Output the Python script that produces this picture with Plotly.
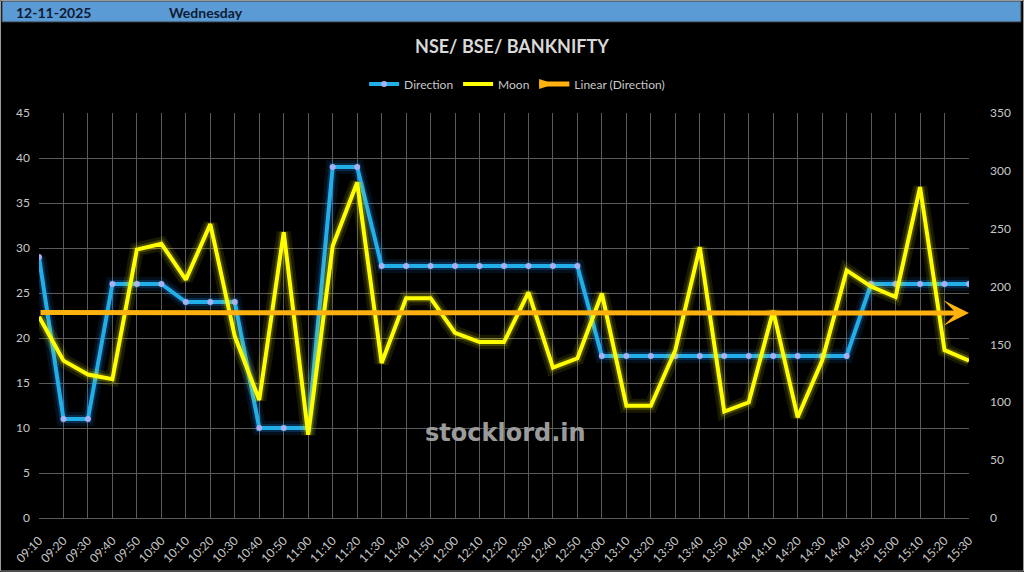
import numpy as np
import plotly.graph_objects as go

times = ["09:10","09:20","09:30","09:40","09:50","10:00","10:10","10:20","10:30","10:40",
         "10:50","11:00","11:10","11:20","11:30","11:40","11:50","12:00","12:10","12:20",
         "12:30","12:40","12:50","13:00","13:10","13:20","13:30","13:40","13:50","14:00",
         "14:10","14:20","14:30","14:40","14:50","15:00","15:10","15:20","15:30"]
direction = [29, 11, 11, 26, 26, 26, 24, 24, 24, 10,
             10, 10, 39, 39, 28, 28, 28, 28, 28, 28,
             28, 28, 28, 18, 18, 18, 18, 18, 18, 18,
             18, 18, 18, 18, 26, 26, 26, 26, 26]
moon = [174, 136, 124, 120, 232, 237, 206, 254, 157, 102,
        247, 72, 235, 290, 134, 190, 190, 160, 152, 152,
        195, 130, 138, 194, 97, 97, 145, 234, 92, 100,
        179, 87, 136, 214, 200, 191, 286, 145, 136]
left_ticks = [0, 5, 10, 15, 20, 25, 30, 35, 40, 45]
right_ticks = [0, 50, 100, 150, 200, 250, 300, 350]
title_text = "NSE/ BSE/ BANKNIFTY"
date_text = "12-11-2025"
day_text = "Wednesday"
watermark = "stocklord.in"

W, H = 1024, 572
ML, MR, MT, MB = 39, 55, 113, 54
PW, PH = W - ML - MR, H - MT - MB

def px(x):
    return (x - ML) / PW

def py(y):
    return (H - MB - y) / PH

idx = list(range(len(times)))
coef = np.polyfit(idx, direction, 1)
trend = np.polyval(coef, idx)

BLUE = "#22aee6"
YELLOW = "#ffff00"
ORANGE = "#ffb20f"
FONT = "Lato"

fig = go.Figure()
# Direction glow + line
fig.add_trace(go.Scatter(x=idx, y=direction, mode="lines", line=dict(color="rgba(34,150,255,0.10)", width=14),
                         showlegend=False, hoverinfo="skip"))
fig.add_trace(go.Scatter(x=idx, y=direction, mode="lines", line=dict(color="rgba(34,150,255,0.22)", width=8),
                         showlegend=False, hoverinfo="skip"))
fig.add_trace(go.Scatter(x=idx, y=direction, mode="lines+markers", name="Direction",
                         line=dict(color=BLUE, width=4),
                         marker=dict(color="#a7b0f2", size=6)))
# Moon glow + line
fig.add_trace(go.Scatter(x=idx, y=moon, yaxis="y2", mode="lines", line=dict(color="rgba(255,255,0,0.10)", width=14),
                         showlegend=False, hoverinfo="skip"))
fig.add_trace(go.Scatter(x=idx, y=moon, yaxis="y2", mode="lines", line=dict(color="rgba(255,255,0,0.20)", width=8),
                         showlegend=False, hoverinfo="skip"))
fig.add_trace(go.Scatter(x=idx, y=moon, yaxis="y2", mode="lines", name="Moon",
                         line=dict(color=YELLOW, width=4)))
# legend entry for trend
fig.add_trace(go.Scatter(x=[None], y=[None], mode="lines+markers", name="Linear (Direction)",
                         line=dict(color=ORANGE, width=5),
                         marker=dict(symbol="arrow", angle=90, size=16, color=ORANGE)))

annotations = [
    dict(x=idx[-1], y=trend[-1], ax=idx[0], ay=trend[0], xref="x", yref="y", axref="x", ayref="y",
         showarrow=True, arrowhead=3, arrowsize=0.85, arrowwidth=5, arrowcolor=ORANGE, standoff=0, text=""),
    dict(x=px(505), y=py(433), xref="paper", yref="paper", text="<b>" + watermark + "</b>", showarrow=False,
         font=dict(family="DejaVu Sans", size=24, color="#9b9b9b"), xanchor="center", yanchor="middle"),
    dict(x=px(14), y=py(12), xref="paper", yref="paper", text="<b>" + date_text + "</b>", showarrow=False,
         font=dict(family=FONT, size=14, color="#0d1b33"), xanchor="left", yanchor="middle"),
    dict(x=px(167), y=py(12), xref="paper", yref="paper", text="<b>" + day_text + "</b>", showarrow=False,
         font=dict(family=FONT, size=14, color="#0d1b33"), xanchor="left", yanchor="middle"),
]

shapes = [
    dict(type="rect", xref="paper", yref="paper", x0=px(2), x1=px(1021), y0=py(22), y1=py(1),
         fillcolor="#5b9bd5", line=dict(color="#3a3a3a", width=1), layer="below"),
    dict(type="rect", xref="paper", yref="paper", x0=px(0.5), x1=px(1023.5), y0=py(571), y1=py(0.5),
         fillcolor="rgba(0,0,0,0)", line=dict(color="#9a9a9a", width=1), layer="above"),
]

GRID = "#5a5a5a"
TICKC = "#c8c8c8"
fig.update_layout(
    width=W, height=H,
    margin=dict(l=ML, r=MR, t=MT, b=MB, autoexpand=False),
    paper_bgcolor="#000000", plot_bgcolor="#000000",
    title=dict(text="<b>" + title_text + "</b>", x=0.5, xref="container", y=1 - 47 / H, yref="container",
               xanchor="center", yanchor="middle", font=dict(family=FONT, size=18, color="#d9d9d9")),
    legend=dict(orientation="h", x=0.505, xref="container", xanchor="center", y=1 - 84 / H, yref="container",
                yanchor="middle", font=dict(family=FONT, size=12, color="#c8c8c8"), bgcolor="rgba(0,0,0,0)",
                itemwidth=30, tracegroupgap=0),
    xaxis=dict(range=[0, len(times) - 1], tickvals=idx, ticktext=times, tickangle=-45, showgrid=True,
               gridcolor=GRID, gridwidth=1, zeroline=False, showline=True, linecolor=GRID, automargin=False,
               tickfont=dict(family=FONT, size=12, color=TICKC), ticks="", ticklabelstandoff=10),
    yaxis=dict(range=[0, 45], tickvals=left_ticks, showgrid=True, gridcolor=GRID, gridwidth=1, zeroline=False,
               showline=False, automargin=False, tickfont=dict(family=FONT, size=12, color=TICKC), ticks="",
               ticklabelstandoff=8),
    yaxis2=dict(range=[0, 350], tickvals=right_ticks, overlaying="y", side="right", showgrid=False,
                zeroline=False, showline=False, automargin=False, tickfont=dict(family=FONT, size=12, color=TICKC),
                ticks="", ticklabelstandoff=20),
    annotations=annotations,
    shapes=shapes,
    hovermode=False,
)

fig.write_html("out.html", config={"displayModeBar": False},
               post_script="document.body.style.margin='0';document.body.style.overflow='hidden';")
